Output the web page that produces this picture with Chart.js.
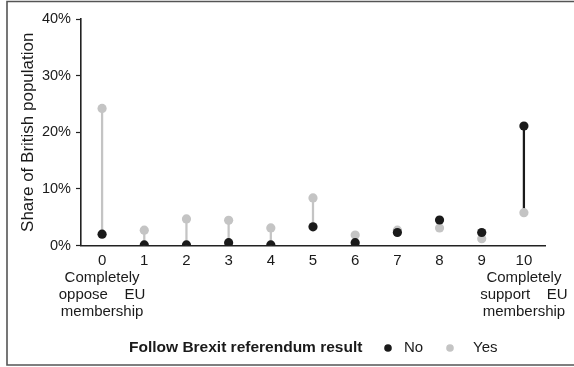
<!DOCTYPE html>
<html>
<head>
<meta charset="utf-8">
<script src="https://cdn.jsdelivr.net/npm/chart.js@4/dist/chart.umd.min.js"></script>
<style>
  html, body { margin: 0; padding: 0; background: #fff; }
  #wrap { width: 574px; height: 367px; position: relative; }
</style>
</head>
<body>
<div id="wrap"><canvas id="c" width="574" height="367"></canvas></div>
<script>
// Support for EU membership, 0 (completely oppose) .. 10 (completely support)
const categories = ['0', '1', '2', '3', '4', '5', '6', '7', '8', '9', '10'];
// Share of British population (%) by whether Brexit referendum result should be followed
const followNo  = [2.0, 0.1, 0.1, 0.5, 0.1, 3.3, 0.5, 2.3, 4.5, 2.3, 21.1];
const followYes = [24.2, 2.7, 4.7, 4.45, 3.1, 8.4, 1.85, 2.7, 3.1, 1.2, 5.8];
const yTicks = [0, 10, 20, 30, 40];
const endLabels = {
  '0':  ['Completely', 'oppose    EU', 'membership'],
  '10': ['Completely', 'support    EU', 'membership']
};
const legendTitle = 'Follow Brexit referendum result';
const seriesNames = ['No', 'Yes'];

const BLACK = '#1a1a1a';
const GREY = '#c4c4c4';
const TEXT = '#1a1a1a';
const FONT = "'Liberation Sans', Arial, sans-serif";

// vertical connector between the two answers, coloured after the higher one
const ranges = categories.map((_, i) => [Math.min(followNo[i], followYes[i]), Math.max(followNo[i], followYes[i])]);
const rangeColors = categories.map((_, i) => followNo[i] > followYes[i] ? BLACK : GREY);

const framePlugin = {
  id: 'frame',
  afterDraw(chart) {
    const ctx = chart.ctx;
    ctx.save();
    ctx.strokeStyle = '#555';
    ctx.lineWidth = 1.6;
    ctx.beginPath();
    ctx.moveTo(574, 1.5);
    ctx.lineTo(7, 1.5);
    ctx.lineTo(7, 365);
    ctx.lineTo(574, 365);
    ctx.stroke();

    // legend row
    const y = 348;
    ctx.fillStyle = TEXT;
    ctx.textBaseline = 'middle';
    ctx.textAlign = 'left';
    ctx.font = 'bold 15.5px ' + FONT;
    ctx.fillText(legendTitle, 129, y);
    ctx.font = '15px ' + FONT;
    ctx.beginPath();
    ctx.fillStyle = BLACK;
    ctx.arc(388, y, 3.8, 0, Math.PI * 2);
    ctx.fill();
    ctx.fillStyle = TEXT;
    ctx.fillText(seriesNames[0], 404, y);
    ctx.beginPath();
    ctx.fillStyle = GREY;
    ctx.arc(450, y, 3.8, 0, Math.PI * 2);
    ctx.fill();
    ctx.fillStyle = TEXT;
    ctx.fillText(seriesNames[1], 473, y);
    ctx.restore();
  }
};

new Chart(document.getElementById('c'), {
  data: {
    labels: categories,
    datasets: [
      {
        type: 'bar',
        data: ranges,
        backgroundColor: rangeColors,
        borderWidth: 0,
        barThickness: 1.6,
        order: 3
      },
      {
        type: 'line',
        label: seriesNames[1],
        data: followYes,
        showLine: false,
        pointRadius: 4.6,
        pointBackgroundColor: GREY,
        pointBorderWidth: 0,
        order: 2
      },
      {
        type: 'line',
        label: seriesNames[0],
        data: followNo,
        showLine: false,
        pointRadius: 4.6,
        pointBackgroundColor: BLACK,
        pointBorderWidth: 0,
        order: 1
      }
    ]
  },
  options: {
    responsive: false,
    animation: false,
    layout: { padding: { left: 0, top: 19, right: 29, bottom: 0 } },
    plugins: { legend: { display: false }, tooltip: { enabled: false } },
    scales: {
      x: {
        type: 'category',
        offset: true,
        grid: { display: false, drawOnChartArea: false, offset: false, tickLength: 4, tickColor: '#222', tickWidth: 1.2 },
        border: { display: true, color: '#222', width: 1.6 },
        ticks: {
          color: TEXT,
          font: { family: FONT, size: 15, lineHeight: 1.13 },
          padding: 3,
          maxRotation: 0,
          autoSkip: false,
          callback: function (v) {
            const lab = this.getLabelForValue(v);
            return endLabels[lab] ? [lab].concat(endLabels[lab]) : lab;
          }
        },
        afterFit(scale) { scale.height = 121.5; }
      },
      y: {
        min: 0,
        max: 40,
        afterBuildTicks(scale) { scale.ticks = yTicks.map(v => ({ value: v })); },
        grid: { drawOnChartArea: false, tickLength: 5, tickColor: '#222', tickWidth: 1.2 },
        border: { display: true, color: '#222', width: 1.6 },
        ticks: {
          color: TEXT,
          font: { family: FONT, size: 14.5 },
          padding: 5,
          callback: v => v + '%'
        },
        title: {
          display: true,
          text: 'Share of British population',
          color: TEXT,
          font: { family: FONT, size: 17 },
          padding: { top: 17.8, bottom: 0 }
        },
        afterFit(scale) { scale.width = 81; }
      }
    }
  },
  plugins: [framePlugin]
});
</script>
</body>
</html>
